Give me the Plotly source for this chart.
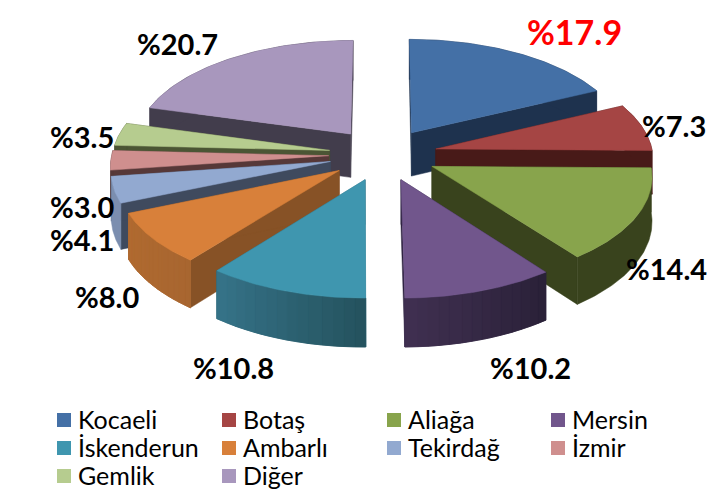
import numpy as np
import plotly.graph_objects as go

categories = ["Kocaeli", "Botaş", "Aliağa", "Mersin", "İskenderun", "Ambarlı", "Tekirdağ", "İzmir", "Gemlik", "Diğer"]
values = [17.9, 7.3, 14.4, 10.2, 10.8, 8.0, 4.1, 3.0, 3.5, 20.7]
top_colors = ["#4470A6", "#A54544", "#88A44C", "#71568C", "#3F96AF", "#D8803A", "#92A9D0", "#CF8F8E", "#B6CC8F", "#A897BD"]
edge_colors = ["#1E324E", "#481A18", "#39431D", "#2E2340", "#2E6A7C", "#875226", "#3F4A5E", "#563838", "#4B5534", "#423D4C"]
rim_start = ["#1E324E", "#481A18", "#39431D", "#2A2138", "#25535F", "#A86630", "#7B8EAF", "#563838", "#4B5534", "#423D4C"]
rim_end = ["#1E324E", "#481A18", "#39431D", "#3F2F50", "#357287", "#B06A30", "#7B8EAF", "#563838", "#4B5534", "#423D4C"]
label_x = [574, 674, 666, 530, 233, 107, 82, 82, 82, 177]
label_y = [31, 125, 268, 367, 367, 296, 239, 206, 136, 43]
label_colors = ["#FF0000"] + ["#000000"] * 9
label_sizes = [34] + [29] * 9
legend_x = [64, 229, 394, 558]
legend_y = [419, 447, 475]

CX, CY, RX, RY, K, DEPTH, EXPLODE = 383, 154.5, 217, 104.4, 0.0815, 44, 0.25


def project(X, Y, down=0.0):
    X, Y = np.asarray(X, float), np.asarray(Y, float)
    s = 1 / (1 + K * Y)
    return CX + RX * X * s, CY - RY * Y * s + down * s


def hexmix(a, b, t):
    ca = [int(a[i:i + 2], 16) for i in (1, 3, 5)]
    cb = [int(b[i:i + 2], 16) for i in (1, 3, 5)]
    return "rgb({},{},{})".format(*[round(p + (q - p) * t) for p, q in zip(ca, cb)])


fig = go.Figure()


def poly(xs, ys, color, width=1.0):
    fig.add_trace(go.Scatter(x=np.r_[xs, xs[0]], y=np.r_[ys, ys[0]], mode="lines", fill="toself",
                             fillcolor=color, line=dict(color=color, width=width),
                             hoverinfo="skip", showlegend=False))


total = sum(values)
edges = np.cumsum([0] + values) / total * 2 * np.pi
slices = []
for i in range(len(values)):
    a0, a1 = edges[i], edges[i + 1]
    mid = (a0 + a1) / 2
    slices.append((i, a0, a1, EXPLODE * np.sin(mid), EXPLODE * np.cos(mid)))

# painter's order: back slices first
for i, a0, a1, ox, oy in sorted(slices, key=lambda t: -t[4]):
    th = np.linspace(a0, a1, 60)
    X = ox + np.sin(th)
    Y = oy + np.cos(th)
    for a in (a0, a1):
        ex, ey = ox + np.sin(a), oy + np.cos(a)
        x1, y1 = project([ox, ex], [oy, ey])
        x2, y2 = project([ox, ex], [oy, ey], DEPTH)
        poly(np.r_[x1, x2[::-1]], np.r_[y1, y2[::-1]], edge_colors[i], 0.5)
    x1, y1 = project(X, Y)
    x2, y2 = project(X, Y, DEPTH)
    poly(np.r_[x1, x2[::-1]], np.r_[y1, y2[::-1]], hexmix(rim_start[i], rim_end[i], 0.5), 0.5)
    if rim_start[i] != rim_end[i]:
        segs = 14
        idx = np.linspace(0, 59, segs + 1).astype(int)
        for j in range(segs):
            sel = np.arange(idx[j], idx[j + 1] + 1)
            poly(np.r_[x1[sel], x2[sel][::-1]], np.r_[y1[sel], y2[sel][::-1]],
                 hexmix(rim_start[i], rim_end[i], j / (segs - 1)), 0.8)
    xt, yt = project(np.r_[ox, X], np.r_[oy, Y])
    poly(xt, yt, top_colors[i], 0.5)

annotations = []
for i, v in enumerate(values):
    annotations.append(dict(x=label_x[i], y=label_y[i], text=f"<b>%{v:.1f}</b>", showarrow=False,
                            font=dict(family="Lato", size=label_sizes[i], color=label_colors[i])))

key_x, key_y = [], []
for i, name in enumerate(categories):
    lx, ly = legend_x[i % 4], legend_y[i // 4]
    key_x.append(lx)
    key_y.append(ly + 1)
    annotations.append(dict(x=lx + 12, y=ly, text=name, showarrow=False, xanchor="left",
                            font=dict(family="Lato", size=25, color="#000000")))
fig.add_trace(go.Scatter(x=key_x, y=key_y, mode="markers", hoverinfo="skip", showlegend=False,
                         marker=dict(symbol="square", size=14, color=top_colors, line=dict(width=0))))

fig.update_layout(width=714, height=490, margin=dict(l=0, r=0, t=0, b=0), paper_bgcolor="white",
                  plot_bgcolor="white", annotations=annotations,
                  xaxis=dict(range=[0, 714], visible=False, fixedrange=True),
                  yaxis=dict(range=[490, 0], visible=False, fixedrange=True))
fig.write_html("out.html", config=dict(displayModeBar=False),
               post_script="document.body.style.margin='0';document.documentElement.style.overflow='hidden';")
